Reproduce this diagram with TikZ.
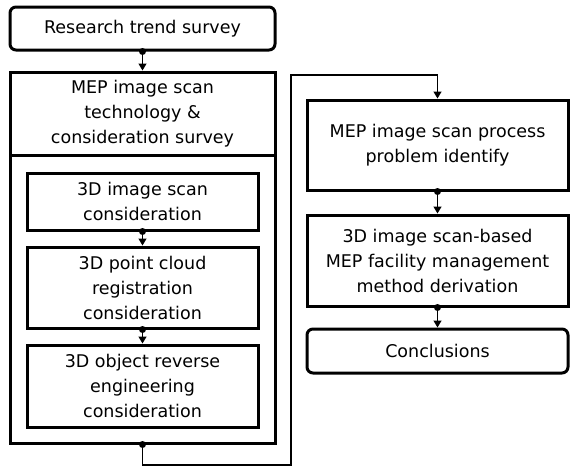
\documentclass[tikz,border=0pt]{standalone}
\usepackage{fontspec}
\setmainfont{DejaVu Sans}
\usetikzlibrary{arrows.meta}

\begin{document}
\begin{tikzpicture}[x=1pt,y=-1pt,
    every node/.style={draw,line width=3pt,align=center,inner sep=0pt,
      font=\fontsize{17.5}{25}\selectfont},
    rbox/.style={rounded corners=6pt},
    arr/.style={line width=1.4pt,-{Triangle[length=7pt,width=8pt]}}]
    \useasboundingbox (0,0) rectangle (570,469);

    \node[rbox,minimum width=265pt,minimum height=43pt] (trend) at (142.5, 28.5) {Research trend survey};
    \node[minimum width=265pt,minimum height=371pt] (frame) at (142.5, 257.5) {};
    \node[minimum width=265pt,minimum height=83pt] (head) at (142.5, 113.5) {MEP image scan\\technology \&\\consideration survey};
    \node[minimum width=231pt,minimum height=57pt] (scan) at (142.5, 201.5) {3D image scan\\consideration};
    \node[minimum width=231pt,minimum height=81pt] (regist) at (142.5, 287.5) {3D point cloud\\registration\\consideration};
    \node[minimum width=231pt,minimum height=82pt] (reverse) at (142.5, 386) {3D object reverse\\engineering\\consideration};
    \node[minimum width=261pt,minimum height=90pt] (problem) at (437.5, 145) {MEP image scan process\\problem identify};
    \node[minimum width=261pt,minimum height=91pt] (method) at (437.5, 260.5) {3D image scan-based\\MEP facility management\\method derivation};
    \node[rbox,minimum width=261pt,minimum height=44pt] (concl) at (437.5, 351) {Conclusions};

    \coordinate (low) at (291, 465);
    \coordinate (high) at (291, 75);

    \draw[arr] (trend.south) -- (frame.north);
    \draw[arr] (scan.south) -- (regist.north);
    \draw[arr] (regist.south) -- (reverse.north);
    \draw[arr] (frame.south) |- (low) -- (high) -| (problem.north);
    \draw[arr] (problem.south) -- (method.north);
    \draw[arr] (method.south) -- (concl.north);

    \foreach \n in {trend,scan,regist,frame,problem,method}
      \fill (\n.south) circle (3.5pt);
  \end{tikzpicture}
\end{document}
